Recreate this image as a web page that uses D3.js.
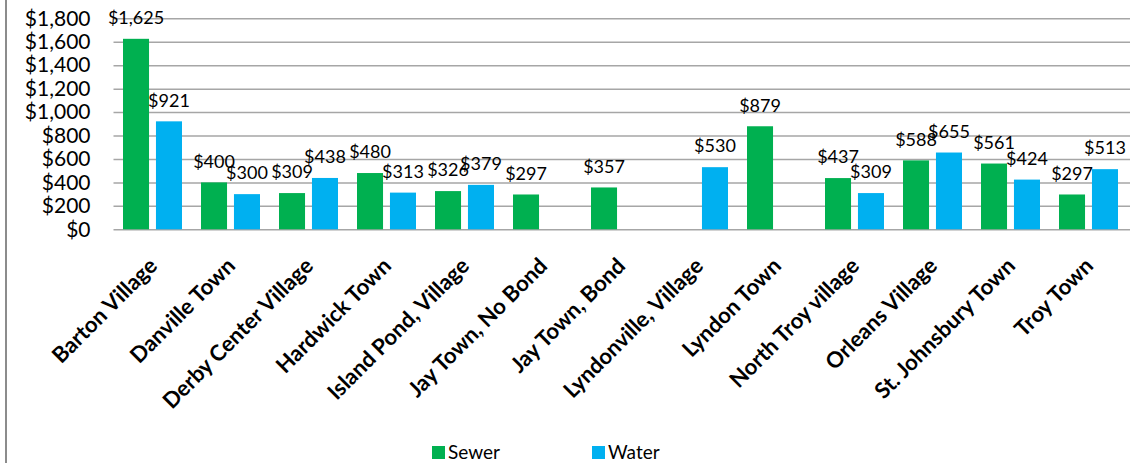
<!DOCTYPE html>
<html>
<head>
<meta charset="utf-8">
<script src="https://cdn.jsdelivr.net/npm/d3@7"></script>
<style>
  body { margin: 0; background: #fff; }
  text { font-family: Lato, "Open Sans", sans-serif; fill: #000; }
</style>
</head>
<body>
<div id="chart"></div>
<script>
const towns = ["Barton Village", "Danville Town", "Derby Center Village", "Hardwick Town",
  "Island Pond, Village", "Jay Town, No Bond", "Jay Town, Bond", "Lyndonville, Village",
  "Lyndon Town", "North Troy village", "Orleans Village", "St. Johnsbury Town", "Troy Town"];
const sewer = [1625, 400, 309, 480, 326, 297, 357, null, 879, 437, 588, 561, 297];
const water = [921, 300, 438, 313, 379, null, null, 530, null, 309, 655, 424, 513];
const seriesNames = ["Sewer", "Water"];
const yTicks = [0, 200, 400, 600, 800, 1000, 1200, 1400, 1600, 1800];

const W = 1132, H = 463;
const margin = {top: 18.3, left: 113.5, right: 4.5},
      plotBottom = 229.3;
const colors = {Sewer: "#00b050", Water: "#00b0f0"};

const data = towns.map((t, i) => ({town: t, Sewer: sewer[i], Water: water[i]}));

const svg = d3.select("#chart").append("svg")
    .attr("width", W)
    .attr("height", H);

// outer frame line on the left
svg.append("line")
    .attr("x1", 6).attr("x2", 6)
    .attr("y1", 0).attr("y2", H)
    .style("stroke", "#8c8c8c").style("stroke-width", 2);

const x = d3.scaleBand().domain(towns).range([margin.left, W - margin.right]);
const xs = d3.scaleBand().domain(seriesNames)
    .range([9.5, x.bandwidth() - 9.5]).paddingInner(0.21);
const y = d3.scaleLinear().domain([0, 1800]).range([plotBottom, margin.top]);

// grid
svg.append("g")
    .attr("transform", `translate(${margin.left},0)`)
    .call(d3.axisLeft(y).tickValues(yTicks).tickSize(-(W - margin.left - 2)).tickFormat(""))
    .call(g => g.select(".domain").remove())
    .selectAll(".tick line").style("stroke", "#a6a6a6").style("stroke-width", 1.5);

// y labels
svg.append("g")
    .attr("transform", `translate(${margin.left},0)`)
    .call(d3.axisLeft(y).tickValues(yTicks).tickSize(0).tickPadding(23)
        .tickFormat(d => "$" + d3.format(",")(d)))
    .call(g => g.select(".domain").remove())
    .selectAll("text")
    .style("font-size", "21px")
    .style("font-family", "Lato, sans-serif");

// bars
const groups = svg.selectAll(".grp").data(data).enter().append("g")
    .attr("class", "grp")
    .attr("transform", d => `translate(${x(d.town)},0)`);

seriesNames.forEach(s => {
    const g = groups.filter(d => d[s] != null);
    g.append("rect")
        .attr("x", xs(s))
        .attr("width", xs.bandwidth())
        .attr("y", d => y(d[s]))
        .attr("height", d => plotBottom - y(d[s]))
        .style("fill", colors[s]);
    g.append("text")
        .attr("x", xs(s) + xs.bandwidth() / 2)
        .attr("y", d => y(d[s]) - 21)
        .attr("dy", "0.35em")
        .attr("text-anchor", "middle")
        .style("font-size", "18px")
        .text(d => "$" + d3.format(",")(d[s]));
});

// x labels, rotated
svg.append("g").selectAll("text").data(towns).enter().append("text")
    .attr("transform", d => `translate(${x(d) + x.bandwidth() / 2 + 6},${plotBottom + 38}) rotate(-45)`)
    .attr("text-anchor", "end")
    .style("font-size", "22px")
    .style("font-weight", "bold")
    .text(d => d);

// legend
const legendPos = {Sewer: 432, Water: 592};
const legend = svg.append("g").selectAll("g").data(seriesNames).enter().append("g")
    .attr("transform", d => `translate(${legendPos[d]},446)`);
legend.append("rect")
    .attr("width", 13).attr("height", 13)
    .style("fill", d => colors[d]);
legend.append("text")
    .attr("x", 16).attr("y", 6.5).attr("dy", "0.35em")
    .style("font-size", "19px")
    .text(d => d);
</script>
</body>
</html>
